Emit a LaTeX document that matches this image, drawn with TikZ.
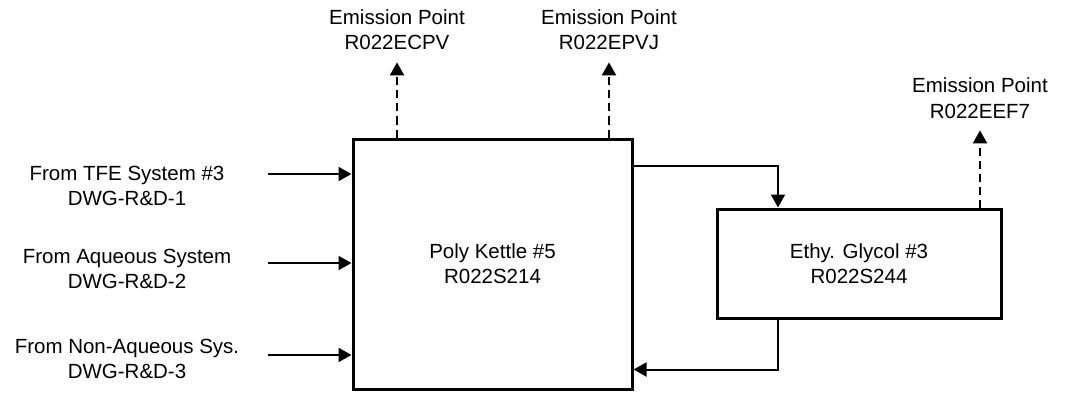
\documentclass[tikz,border=0pt]{standalone}
\usepackage{fontspec}
\setmainfont{Liberation Sans}
\usetikzlibrary{arrows.meta}
\tikzset{
  every picture/.style={font=\fontsize{20.5}{25}\selectfont, >={Triangle[length=13pt,width=14pt]}},
  unit/.style={draw, line width=3pt, inner sep=0pt, align=center},
  tag/.style={align=center, inner sep=0pt, anchor=base},
  flow/.style={->, line width=2pt},
  vent/.style={->, line width=2pt, dash pattern=on 8pt off 5pt},
}

\begin{document}
\begin{tikzpicture}[x=1pt,y=-1pt]
\useasboundingbox (0,0) rectangle (1067,393);
\node[unit, minimum width=279pt, minimum height=250pt] (kettle) at (492.5,264) {Poly Kettle \#5\\R022S214};
\node[unit, minimum width=284pt, minimum height=109pt] (glycol) at (859,263.5) {Ethy. Glycol \#3\\R022S244};
\node[tag] (ecpv) at (397,50) {Emission Point\\R022ECPV};
\node[tag] (epvj) at (609,50) {Emission Point\\R022EPVJ};
\node[tag] (eef7) at (980,118) {Emission Point\\R022EEF7};
\node[tag] (tfe) at (127,205) {From TFE System \#3\\DWG-R\&D-1};
\node[tag] (aq) at (127,288) {From Aqueous System\\DWG-R\&D-2};
\node[tag] (naq) at (127,378) {From Non-Aqueous Sys.\\DWG-R\&D-3};
\coordinate (in1) at (268,174);
\coordinate (in2) at (268,263);
\coordinate (in3) at (268,355);
\draw[flow] (in1) -- (in1 -| kettle.west);
\draw[flow] (in2) -- (in2 -| kettle.west);
\draw[flow] (in3) -- (in3 -| kettle.west);
\draw[vent] (kettle.north -| ecpv) -- ([yshift=-12pt]ecpv.south);
\draw[vent] (kettle.north -| epvj) -- ([yshift=-12pt]epvj.south);
\draw[vent] (glycol.north -| eef7) -- ([yshift=-12pt]eef7.south);
\draw[flow] ([yshift=-28pt]kettle.north east) -| ([xshift=-81pt]glycol.north);
\draw[flow] ([xshift=-81pt]glycol.south) |- ([yshift=21pt]kettle.south east);
\end{tikzpicture}
\end{document}
